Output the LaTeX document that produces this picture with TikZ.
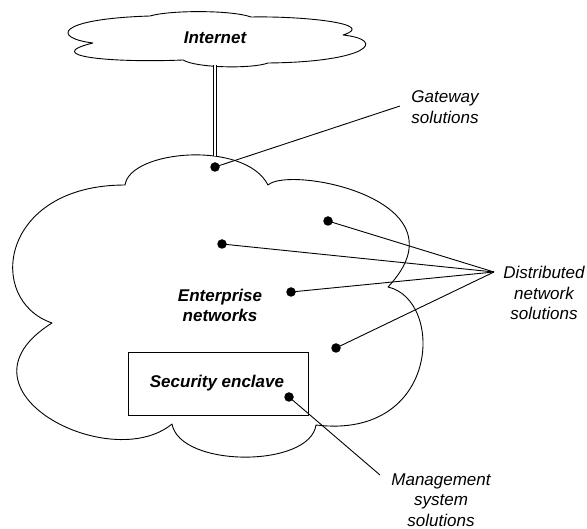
\documentclass[tikz,border=0pt]{standalone}
\usepackage{fontspec}
\setmainfont{Liberation Sans}
\begin{document}
\begin{tikzpicture}[x=1pt,y=-1pt,
  outline/.style={draw=black,line width=0.9pt,line join=round},
  pin/.style={circle,fill=black,inner sep=0pt,minimum size=9.5pt},
  leader/.style={draw=black,line width=0.9pt},
  lbl/.style={font=\fontsize{17}{20.5}\selectfont\itshape,align=center,inner sep=0pt},
  title/.style={font=\fontsize{17}{20}\selectfont\bfseries\itshape,align=center,inner sep=0pt}]
\useasboundingbox (0,0) rectangle (587,529);

% Internet cloud
\draw[outline] (93,43) .. controls (52,38) and (55,19) .. (150,16)
  .. controls (170,10) and (232,10) .. (251,17)
  .. controls (305,16) and (378,24) .. (343,35)
  .. controls (388,40) and (368,62) .. (268,63)
  .. controls (252,69) and (196,68) .. (183,60)
  .. controls (110,63) and (40,56) .. cycle;
\node[title] (internet) at (215,38) {Internet};

% Enterprise cloud
\draw[outline] (125,185) .. controls (130,150) and (245,140) .. (268,185)
  .. controls (290,165) and (470,200) .. (388,287)
  .. controls (445,300) and (440,440) .. (316,425)
  .. controls (310,468) and (180,468) .. (172,424)
  .. controls (110,475) and (-55,390) .. (52,323)
  .. controls (-15,300) and (0,185) .. cycle;
\node[title] (enterprise) at (220,305) {Enterprise\\networks};

% Security enclave
\node[draw,line width=0.9pt,minimum width=180pt,minimum height=63pt,inner sep=0pt]
  (enclave) at (218,384) {};
\node[title] (enclavetxt) at (217,383) {Security enclave};

% Internet link
\coordinate (netfoot) at (215,65);
\coordinate (entop) at (215,156);
\draw[double,double distance=2.2pt,line width=0.8pt] (netfoot) -- (entop);

% Solution points
\node[pin] (gw) at (215,167) {};
\node[pin] (d1) at (328,221) {};
\node[pin] (d2) at (222,244) {};
\node[pin] (d3) at (291,292) {};
\node[pin] (d4) at (336,348) {};
\node[pin] (ms) at (289,397) {};

% Labels
\node[lbl] (gwtxt) at (445,107) {Gateway\\solutions};
\node[lbl] (dntxt) at (544,293) {Distributed\\network\\solutions};
\node[lbl] (mstxt) at (441,500) {Management\\system\\solutions};

% Leader lines
\coordinate (gwend) at (400,106);
\coordinate (fan) at (494,272);
\coordinate (msend) at (380,475);
\draw[leader] (gw.center) -- (gwend);
\foreach \p in {d1,d2,d3,d4} \draw[leader] (\p.center) -- (fan);
\draw[leader] (ms.center) -- (msend);
\end{tikzpicture}
\end{document}
